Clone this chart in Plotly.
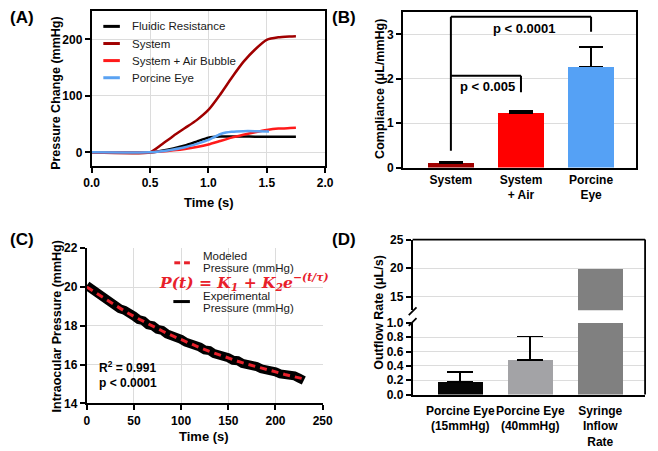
import plotly.graph_objects as go

W, H = 658, 451
FONT = "Liberation Sans, Arial, sans-serif"

# ---------------- data ----------------
# (A) pressure change vs time
time_a = [0.0, 0.5, 0.6, 0.7, 0.8, 0.9, 1.0, 1.1, 1.2, 1.3, 1.4, 1.5, 1.6, 1.7, 1.75]
fluidic_resistance = [0, 0, 3, 7, 12, 19, 26, 28, 28, 28, 27.8, 27.6, 27.5, 27.5, 27.5]
system_curve = [0, 0, 14, 29, 43, 57, 75, 102, 132, 160, 182, 199, 203.5, 205, 205.5]
system_air = [0, 0, 1.5, 3.5, 6, 9.5, 14, 20, 26, 31, 35.5, 39.5, 42, 43, 43.5]
time_eye = [0.0, 0.5, 0.6, 0.7, 0.8, 0.9, 1.0, 1.1, 1.15, 1.2, 1.3, 1.4, 1.52]
porcine_eye = [0, 0, 2, 5, 9, 15, 22, 32, 35, 36.5, 37.5, 37.5, 37]

# (B) compliance
cats_b = ["System", "System<br>+ Air", "Porcine<br>Eye"]
compliance = [0.11, 1.23, 2.28]
compliance_err = [0.02, 0.04, 0.44]
colors_b = ["#a00000", "#ff0000", "#55a1f5"]

# (C) intraocular pressure decay
time_model = [0, 10, 20, 30, 40, 50, 60, 70, 80, 90, 100, 110, 120, 130, 140,
              150, 160, 170, 180, 190, 200, 210, 220, 230]
modeled = [20.0, 19.68, 19.36, 19.05, 18.76, 18.48, 18.22, 17.97, 17.73, 17.50,
           17.28, 17.07, 16.87, 16.68, 16.50, 16.33, 16.17, 16.02, 15.88, 15.74,
           15.61, 15.49, 15.37, 15.26]
time_exp = [0, 5, 10, 15, 20, 25, 30, 35, 40, 45, 50, 55, 60, 65, 70, 75, 80, 85,
            90, 95, 100, 105, 110, 115, 120, 125, 130, 135, 140, 145, 150, 155,
            160, 165, 170, 175, 180, 185, 190, 195, 200, 205, 210, 215, 220, 225, 230]
experimental = [20.08, 19.90, 19.72, 19.50, 19.38, 19.18, 19.08, 18.88, 18.80, 18.58,
                18.50, 18.32, 18.26, 18.05, 18.00, 17.82, 17.76, 17.58, 17.52, 17.36,
                17.30, 17.15, 17.10, 16.94, 16.90, 16.75, 16.72, 16.56, 16.52, 16.38,
                16.35, 16.22, 16.20, 16.06, 16.04, 15.92, 15.90, 15.78, 15.76, 15.64,
                15.62, 15.52, 15.50, 15.38, 15.42, 15.30, 15.18]

# (D) outflow rate
cats_d = ["Porcine Eye<br>(15mmHg)", "Porcine Eye<br>(40mmHg)", "Syringe<br>Inflow<br>Rate"]
outflow = [0.18, 0.48, 20]
outflow_err = [0.13, 0.33, 0]
colors_d = ["#050505", "#a3a3a6", "#808080"]


def X(px):
    return px / W


def Y(py):
    return 1 - py / H


fig = go.Figure()

# ---- A traces ----
for tx, ty, col in [(time_a, fluidic_resistance, "#000000"),
                    (time_a, system_curve, "#a00000"),
                    (time_a, system_air, "#ff1a1a"),
                    (time_eye, porcine_eye, "#5aa2f2")]:
    fig.add_trace(go.Scatter(x=tx, y=ty, mode="lines", xaxis="x", yaxis="y",
                             line=dict(color=col, width=2.5, shape="spline", smoothing=0.5),
                             showlegend=False))

# ---- B bars ----
fig.add_trace(go.Bar(x=cats_b, y=compliance, xaxis="x2", yaxis="y2",
                     marker=dict(color=colors_b, line=dict(width=0)), width=0.65,
                     error_y=dict(type="data", array=compliance_err, symmetric=False,
                                  arrayminus=[0, 0, 0], color="black", thickness=1.8, width=12),
                     showlegend=False))

# ---- C traces ----
fig.add_trace(go.Scatter(x=time_exp, y=experimental, mode="lines", xaxis="x3", yaxis="y3",
                         line=dict(color="black", width=9), showlegend=False))
fig.add_trace(go.Scatter(x=time_model, y=modeled, mode="lines", xaxis="x3", yaxis="y3",
                         line=dict(color="#e8202a", width=3, dash="7px,5px"), showlegend=False))

# ---- D bars (lower and upper part of broken axis) ----
fig.add_trace(go.Bar(x=cats_d, y=outflow, xaxis="x4", yaxis="y4",
                     marker=dict(color=colors_d, line=dict(width=0)), width=0.65,
                     error_y=dict(type="data", array=outflow_err, symmetric=False,
                                  arrayminus=[0, 0, 0], color="black", thickness=1.8, width=13),
                     showlegend=False))
fig.add_trace(go.Bar(x=cats_d, y=outflow, xaxis="x5", yaxis="y5",
                     marker=dict(color=colors_d, line=dict(width=0)), width=0.65,
                     showlegend=False))

tickfont = dict(family=FONT, size=12, color="black", weight="bold")
axis_common = dict(showline=True, linecolor="black", linewidth=1.8, ticks="outside",
                   ticklen=5, tickwidth=1.5, tickcolor="black", tickfont=tickfont,
                   gridcolor="#dcdcdc", gridwidth=1, zeroline=False, fixedrange=True)

fig.update_layout(
    width=W, height=H, margin=dict(l=0, r=0, t=0, b=0),
    paper_bgcolor="white", plot_bgcolor="white", showlegend=False,
    font=dict(family=FONT, color="black"),
    bargap=0,
    # A
    xaxis=dict(axis_common, domain=[X(86), X(326)], anchor="y", range=[0, 2.0],
               tickvals=[0, 0.5, 1.0, 1.5, 2.0], tickformat=".1f", mirror=True, showgrid=True),
    yaxis=dict(axis_common, domain=[Y(164), Y(4)], anchor="x", range=[-24, 250.3],
               tickvals=[0, 100, 200], mirror=True, showgrid=True),
    # B
    xaxis2=dict(axis_common, domain=[X(406), X(646)], anchor="y2", range=[-0.685, 2.646],
                ticks="", mirror=True, showgrid=False, type="category", tickangle=0),
    yaxis2=dict(axis_common, domain=[Y(165.7), Y(5)], anchor="x2", range=[0, 3.51],
                tickvals=[0, 1, 2, 3], mirror=True, showgrid=True),
    # C
    xaxis3=dict(axis_common, domain=[X(81), X(323.5)], anchor="y3", range=[0, 250],
                tickvals=[0, 50, 100, 150, 200, 250], showgrid=True),
    yaxis3=dict(axis_common, domain=[Y(409), Y(249)], anchor="x3", range=[14, 22],
                tickvals=[14, 16, 18, 20, 22], showgrid=True),
    # D lower
    xaxis4=dict(axis_common, domain=[X(416), X(655)], anchor="y4", range=[-0.68, 2.64],
                ticks="", showgrid=False, type="category", tickangle=0, ticklabelstandoff=4),
    yaxis4=dict(axis_common, domain=[Y(400), Y(326)], anchor="x4", range=[0, 1.0],
                tickvals=[0, 0.2, 0.4, 0.6, 0.8, 1.0], tickformat=".1f", showgrid=True),
    # D upper
    xaxis5=dict(domain=[X(416), X(655)], anchor="y5", range=[-0.68, 2.64], visible=False,
                type="category", fixedrange=True),
    yaxis5=dict(axis_common, domain=[Y(313), Y(240)], anchor="x5", range=[12.6, 25],
                tickvals=[15, 20, 25], showgrid=True),
)

shapes = []
LINE = dict(color="black", width=2)
# B significance brackets
shapes += [
    dict(type="line", xref="x2", yref="y2", x0=0, x1=0, y0=0.38, y1=3.4, line=LINE),
    dict(type="line", xref="x2", yref="y2", x0=0, x1=2, y0=3.4, y1=3.4, line=LINE),
    dict(type="line", xref="x2", yref="y2", x0=2, x1=2, y0=3.4, y1=3.06, line=LINE),
    dict(type="line", xref="x2", yref="y2", x0=0, x1=1, y0=2.07, y1=2.07, line=LINE),
    dict(type="line", xref="x2", yref="y2", x0=1, x1=1, y0=2.07, y1=1.70, line=LINE),
]
# D frame (top + right) and axis break marks
shapes += [
    dict(type="line", xref="paper", yref="paper", x0=X(416), x1=X(655), y0=Y(240), y1=Y(240),
         line=dict(color="black", width=1.8)),
    dict(type="line", xref="paper", yref="paper", x0=X(655), x1=X(655), y0=Y(240), y1=Y(400),
         line=dict(color="black", width=1.8)),
    dict(type="line", xref="paper", yref="paper", x0=X(412), x1=X(420), y0=Y(318), y1=Y(310),
         line=dict(color="black", width=1.8)),
    dict(type="line", xref="paper", yref="paper", x0=X(412), x1=X(420), y0=Y(329), y1=Y(321),
         line=dict(color="black", width=1.8)),
]
# A legend samples
for yy, col in [(20, "#000000"), (37.7, "#a00000"), (55.3, "#ff1a1a"), (73, "#5aa2f2")]:
    shapes.append(dict(type="line", xref="paper", yref="paper", x0=X(98), x1=X(115),
                       y0=Y(yy), y1=Y(yy), line=dict(color=col, width=3)))
# C legend samples
shapes += [
    dict(type="line", xref="paper", yref="paper", x0=X(171), x1=X(177), y0=Y(264), y1=Y(264),
         line=dict(color="#e8202a", width=3)),
    dict(type="line", xref="paper", yref="paper", x0=X(181), x1=X(187), y0=Y(264), y1=Y(264),
         line=dict(color="#e8202a", width=3)),
    dict(type="line", xref="paper", yref="paper", x0=X(170), x1=X(187), y0=Y(304), y1=Y(304),
         line=dict(color="black", width=3)),
]
fig.update_layout(shapes=shapes)

anns = []


def ann(text, x, y, size=12, xanchor="center", yanchor="middle", color="black",
        angle=0, family=FONT, xref="paper", yref="paper"):
    anns.append(dict(text=text, x=x, y=y, xref=xref, yref=yref, showarrow=False,
                     xanchor=xanchor, yanchor=yanchor, textangle=angle,
                     font=dict(family=family, size=size, color=color)))


# panel labels
ann("<b>(A)</b>", X(0), Y(11), size=17, xanchor="left")
ann("<b>(B)</b>", X(331), Y(11), size=17, xanchor="left")
ann("<b>(C)</b>", X(0), Y(240), size=17, xanchor="left")
ann("<b>(D)</b>", X(331), Y(240), size=17, xanchor="left")

# axis titles
ann("<b>Pressure Change (mmHg)</b>", X(50), Y(89), size=12.5, angle=-90)
ann("<b>Time (s)</b>", X(206.7), Y(201.5), size=13)
ann("<b>Compliance (μL/mmHg)</b>", X(383), Y(85), size=12.5, angle=-90)
ann("<b>Intraocular Pressure (mmHg)</b>", X(50), Y(330), size=12.5, angle=-90)
ann("<b>Time (s)</b>", X(201.7), Y(443), size=13)
ann("<b>Outflow Rate (μL/s)</b>", X(382), Y(315), size=12.5, angle=-90)

# A legend text
for yy, txt in [(20, "Fluidic Resistance"), (37.7, "System"), (55.3, "System + Air Bubble"),
                (73, "Porcine Eye")]:
    ann(txt, X(125), Y(yy), size=11.5, xanchor="left", color="#1a1a1a")

# B p-values
ann("<b>p < 0.005</b>", 0.52, 1.83, size=13, xref="x2", yref="y2")
ann("<b>p < 0.0001</b>", 1.05, 3.14, size=13, xref="x2", yref="y2")

# C legend and stats
ann("Modeled", X(198), Y(257), size=11.5, xanchor="left", color="#1a1a1a")
ann("Pressure (mmHg)", X(198), Y(269), size=11.5, xanchor="left", color="#1a1a1a")
ann("<b><i>P(t) = K<sub>1</sub> + K<sub>2</sub>e<sup>−(t/τ)</sup></i></b>", X(243), Y(284),
    size=15.5, color="#e8202a", family="DejaVu Serif, Liberation Serif, serif")
ann("Experimental", X(198), Y(298), size=11.5, xanchor="left", color="#1a1a1a")
ann("Pressure (mmHg)", X(198), Y(310.5), size=11.5, xanchor="left", color="#1a1a1a")
ann("<b>R<sup>2</sup> = 0.991</b>", X(91.5), Y(372), size=12, xanchor="left")
ann("<b>p < 0.0001</b>", X(91.5), Y(388.5), size=12, xanchor="left")

fig.update_layout(annotations=anns)

fig.write_html("out.html", post_script="document.body.style.margin='0';",
               config={"displayModeBar": False})
